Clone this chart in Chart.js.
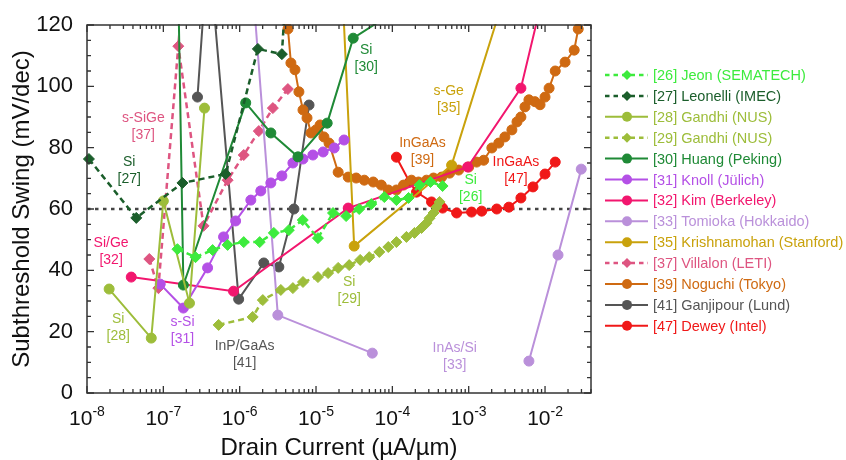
<!DOCTYPE html>
<html>
<head>
<meta charset="utf-8">
<script src="https://cdn.jsdelivr.net/npm/chart.js@4.4.1/dist/chart.umd.min.js"></script>
<style>
  html, body { margin: 0; padding: 0; background: #fff; }
  #wrap { width: 846px; height: 460px; }
</style>
</head>
<body>
<div id="wrap"><canvas id="chart" width="846" height="460"></canvas></div>
<script>
// Axis ticks
const yTicks = [0, 20, 40, 60, 80, 100, 120];
const xTickExps = [-8, -7, -6, -5, -4, -3, -2];
const refLine = 60;

// [26] Jeon (SEMATECH)
const jeonX = [1.53e-7, 2.64e-7, 4.42e-7, 6.95e-7, 1.13e-6, 1.83e-6, 2.8e-6, 4.4e-6, 6.7e-6, 1.06e-5, 1.67e-5, 2.48e-5, 3.68e-5, 5.3e-5, 7.85e-5, 1.13e-4, 1.63e-4, 2.26e-4, 3.16e-4, 4.55e-4];
const jeonY = [46.9, 44.3, 46.6, 48.3, 49.2, 49.2, 52.2, 53.1, 56.4, 50.5, 58.7, 57.7, 60.0, 61.6, 63.9, 62.9, 63.6, 67.8, 68.8, 67.5];
// [27] Leonelli (IMEC)
const leonelliX = [1.06e-8, 4.42e-8, 1.78e-7, 6.55e-7, 1.73e-6, 3.57e-6, 4.0e-6];
const leonelliY = [76.3, 57.1, 68.5, 71.4, 112.2, 110.5, 130];
// [28] Gandhi (NUS)
const gandhiAX = [1.95e-8, 6.95e-8, 1e-7, 2.2e-7, 3.46e-7];
const gandhiAY = [33.9, 17.9, 62.6, 29.3, 92.9];
// [29] Gandhi (NUS)
const gandhiBX = [5.3e-7, 1.48e-6, 2.01e-6, 3.46e-6, 4.98e-6, 6.75e-6, 1.06e-5, 1.44e-5, 1.95e-5, 2.72e-5, 3.79e-5, 4.98e-5, 6.75e-5, 8.85e-5, 1.13e-4, 1.53e-4, 1.95e-4, 2.41e-4, 2.8e-4, 3.07e-4, 3.46e-4, 3.79e-4, 4.15e-4];
const gandhiBY = [22.2, 24.8, 30.3, 33.6, 34.2, 36.2, 37.8, 39.1, 40.8, 41.7, 43.4, 44.3, 46.0, 47.6, 49.2, 50.9, 52.2, 53.8, 55.4, 57.0, 58.7, 60.6, 62.3];
// [30] Huang (Peking)
const huangX = [1.55e-7, 1.83e-7, 1.2e-6, 2.56e-6, 5.8e-6, 1.4e-5, 3.07e-5, 7.6e-5];
const huangY = [140, 35.2, 94.6, 84.8, 77.0, 88.0, 115.7, 122];
// [31] Knoll (Jülich)
const knollX = [9.1e-8, 1.83e-7, 3.8e-7, 6.15e-7, 8.85e-7, 1.4e-6, 1.89e-6, 2.56e-6, 3.57e-6, 4.98e-6, 6.75e-6, 9.1e-6, 1.24e-5, 1.73e-5, 2.33e-5];
const knollY = [35.5, 27.7, 40.8, 50.9, 56.1, 62.9, 65.9, 68.5, 70.8, 75.0, 76.3, 77.6, 78.6, 79.9, 82.5];
// [32] Kim (Berkeley)
const kimX = [3.8e-8, 8.3e-7, 2.64e-5, 9.7e-4, 4.83e-3, 8.5e-3];
const kimY = [37.8, 33.2, 60.3, 73.7, 99.4, 125];
// [33] Tomioka (Hokkaido) - two separate devices
const tomiokaX = [1.51e-6, 3.16e-6, 5.46e-5, 1e-3, 6.15e-3, 1.48e-2, 2.98e-2];
const tomiokaY = [130, 25.4, 13.0, null, 10.4, 45.0, 73.0];
// [35] Krishnamohan (Stanford)
const krishX = [2.23e-5, 3.16e-5, 5.97e-4, 2.98e-3];
const krishY = [130, 47.9, 74.3, 130];
// [37] Villalon (LETI)
const villalonX = [6.55e-8, 8.6e-8, 1.57e-7, 3.36e-7, 6.95e-7, 1.13e-6, 1.78e-6, 2.72e-6, 4.28e-6];
const villalonY = [43.7, 34.2, 113.1, 54.5, 69.4, 77.6, 85.4, 92.9, 99.1];
// [39] Noguchi (Tokyo)
const noguchiX = [4.29e-6, 4.69e-6, 5.3e-6, 5.97e-6, 6.75e-6, 7.62e-6, 8.6e-6, 1e-5, 1.13e-5, 1.27e-5, 1.48e-5, 1.95e-5, 2.64e-5, 3.36e-5, 4.29e-5, 5.62e-5, 7.16e-5, 8.85e-5, 1.13e-4, 1.4e-4, 1.78e-4, 2.2e-4, 2.8e-4, 3.46e-4, 4.42e-4, 5.62e-4, 7.38e-4, 1e-3, 1.27e-3, 1.57e-3, 2.01e-3, 2.48e-3, 2.98e-3, 3.68e-3, 4.29e-3, 4.83e-3, 5.46e-3, 6.15e-3, 7.38e-3, 8.6e-3, 1e-2, 1.13e-2, 1.36e-2, 1.83e-2, 2.41e-2, 2.72e-2];
const noguchiY = [118.7, 107.6, 105.4, 98.2, 92.3, 89.7, 84.8, 85.8, 87.4, 83.5, 81.5, 72.0, 70.4, 70.1, 69.4, 68.8, 67.8, 66.2, 66.2, 67.8, 69.4, 68.8, 69.4, 70.1, 70.4, 71.7, 72.7, 73.7, 75.3, 75.9, 79.9, 81.5, 83.5, 85.8, 88.4, 90.0, 93.3, 95.6, 95.0, 94.0, 96.5, 99.4, 105.0, 107.9, 111.8, 118.7];
// [41] Ganjipour (Lund)
const ganjiX = [2.8e-7, 3.88e-7, 9.7e-7, 2.07e-6, 3.26e-6, 5.14e-6, 8.1e-6];
const ganjiY = [96.5, 147, 30.6, 42.4, 41.1, 60.0, 93.9];
// [47] Dewey (Intel)
const deweyX = [1.13e-4, 1.68e-4, 2.07e-4, 3.26e-4, 4.55e-4, 6.95e-4, 1.09e-3, 1.48e-3, 2.33e-3, 3.36e-3, 4.83e-3, 6.95e-3, 1e-2, 1.36e-2];
const deweyY = [76.9, 68.8, 65.5, 62.3, 60.3, 58.7, 59.0, 59.3, 60.0, 60.6, 63.6, 67.2, 71.4, 75.3];

const legendLabels = ['[26] Jeon (SEMATECH)', '[27] Leonelli (IMEC)', '[28] Gandhi (NUS)', '[29] Gandhi (NUS)',
  '[30] Huang (Peking)', '[31] Knoll (Jülich)', '[32] Kim (Berkeley)', '[33] Tomioka (Hokkaido)',
  '[35] Krishnamohan (Stanford)', '[37] Villalon (LETI)', '[39] Noguchi (Tokyo)', '[41] Ganjipour (Lund)', '[47] Dewey (Intel)'];

// In-plot labels (material / reference), anchored in data space
const noteLines = [['s-SiGe', '[37]'], ['Si', '[27]'], ['Si/Ge', '[32]'], ['Si', '[28]'], ['s-Si', '[31]'],
  ['InP/GaAs', '[41]'], ['Si', '[30]'], ['s-Ge', '[35]'], ['InGaAs', '[39]'], ['InGaAs', '[47]'],
  ['Si', '[26]'], ['Si', '[29]'], ['InAs/Si', '[33]']];
const noteX = [5.46e-8, 3.57e-8, 2.07e-8, 2.56e-8, 1.78e-7, 1.16e-6, 4.55e-5, 5.46e-4, 2.48e-4, 4.15e-3, 1.06e-3, 2.72e-5, 6.55e-4];
const noteY = [86.7, 72.4, 46.0, 21.2, 20.2, 12.4, 108.9, 95.5, 78.6, 72.4, 66.5, 33.3, 11.7];
const noteColors = ['#DE5581', '#1B5E2B', '#F2166E', '#9DBD3A', '#B450E6', '#555555', '#1F8A36', '#C9A20C', '#CF6A12', '#F01818', '#3DEB3D', '#9DBD3A', '#BA90DA'];

// Styles
const FONT = '"Liberation Sans", Arial, sans-serif';
const series = [
  { xs: jeonX, ys: jeonY, color: '#3DEB3D', dashed: true, marker: 'diamond' },
  { xs: leonelliX, ys: leonelliY, color: '#1B5E2B', dashed: true, marker: 'diamond' },
  { xs: gandhiAX, ys: gandhiAY, color: '#9DBD3A', dashed: false, marker: 'circle' },
  { xs: gandhiBX, ys: gandhiBY, color: '#9DBD3A', dashed: true, marker: 'diamond' },
  { xs: huangX, ys: huangY, color: '#1F8A36', dashed: false, marker: 'circle' },
  { xs: knollX, ys: knollY, color: '#B450E6', dashed: false, marker: 'circle' },
  { xs: kimX, ys: kimY, color: '#F2166E', dashed: false, marker: 'circle' },
  { xs: tomiokaX, ys: tomiokaY, color: '#BA90DA', dashed: false, marker: 'circle' },
  { xs: krishX, ys: krishY, color: '#C9A20C', dashed: false, marker: 'circle' },
  { xs: villalonX, ys: villalonY, color: '#DE5581', dashed: true, marker: 'diamond' },
  { xs: noguchiX, ys: noguchiY, color: '#CF6A12', dashed: false, marker: 'circle' },
  { xs: ganjiX, ys: ganjiY, color: '#555555', dashed: false, marker: 'circle' },
  { xs: deweyX, ys: deweyY, color: '#F01818', dashed: false, marker: 'circle' }
];

const datasets = series.map((s, i) => ({
  label: legendLabels[i],
  data: s.xs.map((x, k) => ({ x: x, y: s.ys[k] })),
  borderColor: s.color,
  backgroundColor: s.color,
  pointBackgroundColor: s.color,
  pointBorderColor: s.color,
  borderWidth: s.dashed ? 2.5 : 2,
  borderDash: s.dashed ? [6, 4] : [],
  pointStyle: s.marker === 'diamond' ? 'rectRot' : 'circle',
  pointRadius: s.marker === 'diamond' ? 5.5 : 5,
  pointBorderWidth: 1,
  spanGaps: false,
  tension: 0,
  clip: { left: 10, right: 10, top: 1, bottom: 10 }
}));

function drawMarker(ctx, kind, x, y, r) {
  ctx.beginPath();
  if (kind === 'diamond') {
    ctx.moveTo(x - r, y); ctx.lineTo(x, y - r); ctx.lineTo(x + r, y); ctx.lineTo(x, y + r);
    ctx.closePath();
  } else {
    ctx.arc(x, y, r, 0, Math.PI * 2);
  }
  ctx.fill();
}

const framePlugin = {
  id: 'frame',
  beforeDatasetsDraw(chart) {
    const { ctx, chartArea: a, scales: { y } } = chart;
    const py = y.getPixelForValue(refLine);
    ctx.save();
    ctx.strokeStyle = '#444';
    ctx.lineWidth = 2.5;
    ctx.setLineDash([3.5, 4.5]);
    ctx.beginPath(); ctx.moveTo(a.left, py); ctx.lineTo(a.right, py); ctx.stroke();
    ctx.restore();
  },
  afterDatasetsDraw(chart) {
    const { ctx, chartArea: a, scales: { x, y } } = chart;
    ctx.save();

    // frame
    ctx.strokeStyle = '#333';
    ctx.lineWidth = 1.5;
    ctx.strokeRect(a.left, a.top, a.right - a.left, a.bottom - a.top);

    // x ticks (inward, bottom and top)
    ctx.lineWidth = 1.3;
    ctx.beginPath();
    xTickExps.forEach(e => {
      for (let m = 1; m <= 9; m++) {
        const v = m * Math.pow(10, e);
        if (v > x.max) break;
        const px = x.getPixelForValue(v);
        const len = m === 1 ? 7 : 4;
        ctx.moveTo(px, a.bottom); ctx.lineTo(px, a.bottom - len);
        ctx.moveTo(px, a.top); ctx.lineTo(px, a.top + len);
      }
    });
    // y ticks (inward, left and right)
    for (let v = 0; v <= 120; v += 5) {
      const py = y.getPixelForValue(v);
      const len = v % 20 === 0 ? 7 : 4;
      ctx.moveTo(a.left, py); ctx.lineTo(a.left + len, py);
      ctx.moveTo(a.right, py); ctx.lineTo(a.right - len, py);
    }
    ctx.stroke();

    // y tick labels
    ctx.fillStyle = '#111';
    ctx.font = '22px ' + FONT;
    ctx.textAlign = 'right';
    ctx.textBaseline = 'middle';
    yTicks.forEach(v => ctx.fillText(String(v), a.left - 14, y.getPixelForValue(v)));

    // x tick labels 10^e
    ctx.textBaseline = 'alphabetic';
    ctx.textAlign = 'left';
    xTickExps.forEach(e => {
      const px = x.getPixelForValue(Math.pow(10, e));
      ctx.font = '21px ' + FONT;
      const wb = ctx.measureText('10').width;
      ctx.font = '14px ' + FONT;
      const sup = '-' + Math.abs(e);
      const we = ctx.measureText(sup).width;
      const left = px - (wb + we) / 2;
      ctx.font = '21px ' + FONT;
      ctx.fillText('10', left, a.bottom + 32);
      ctx.font = '14px ' + FONT;
      ctx.fillText(sup, left + wb, a.bottom + 23);
    });

    // axis titles
    ctx.font = '24px ' + FONT;
    ctx.textAlign = 'center';
    ctx.fillText('Drain Current (\u00B5A/\u00B5m)', (a.left + a.right) / 2, a.bottom + 62);
    ctx.save();
    ctx.translate(29, (a.top + a.bottom) / 2);
    ctx.rotate(-Math.PI / 2);
    ctx.fillText('Subthreshold Swing (mV/dec)', 0, 0);
    ctx.restore();

    // in-plot notes
    ctx.font = '14px ' + FONT;
    ctx.textBaseline = 'middle';
    noteLines.forEach((lines, i) => {
      const px = x.getPixelForValue(noteX[i]);
      const py = y.getPixelForValue(noteY[i]);
      ctx.fillStyle = noteColors[i];
      ctx.fillText(lines[0], px, py - 8.5);
      ctx.fillText(lines[1], px, py + 8.5);
    });

    // legend
    const lx0 = 605, lx1 = 648, lm = 627, tx = 653, ly0 = 75, dy = 20.9;
    ctx.font = '14.5px ' + FONT;
    ctx.textAlign = 'left';
    series.forEach((s, i) => {
      const ly = ly0 + i * dy;
      ctx.strokeStyle = s.color;
      ctx.fillStyle = s.color;
      ctx.lineWidth = s.dashed ? 2.5 : 2;
      ctx.setLineDash(s.dashed ? [4.5, 4] : []);
      ctx.beginPath(); ctx.moveTo(lx0, ly); ctx.lineTo(lx1, ly); ctx.stroke();
      ctx.setLineDash([]);
      drawMarker(ctx, s.marker, lm, ly, s.marker === 'diamond' ? 5 : 5);
      ctx.fillText(legendLabels[i], tx, ly + 1);
    });

    ctx.restore();
  }
};

new Chart(document.getElementById('chart'), {
  type: 'line',
  data: { datasets: datasets },
  options: {
    responsive: false,
    animation: false,
    layout: { padding: { left: 87, right: 255, top: 25, bottom: 67 } },
    plugins: { legend: { display: false }, tooltip: { enabled: false } },
    scales: {
      x: { type: 'logarithmic', min: 1e-8, max: 4e-2, display: false },
      y: { type: 'linear', min: 0, max: 120, display: false }
    }
  },
  plugins: [framePlugin]
});
</script>
</body>
</html>
